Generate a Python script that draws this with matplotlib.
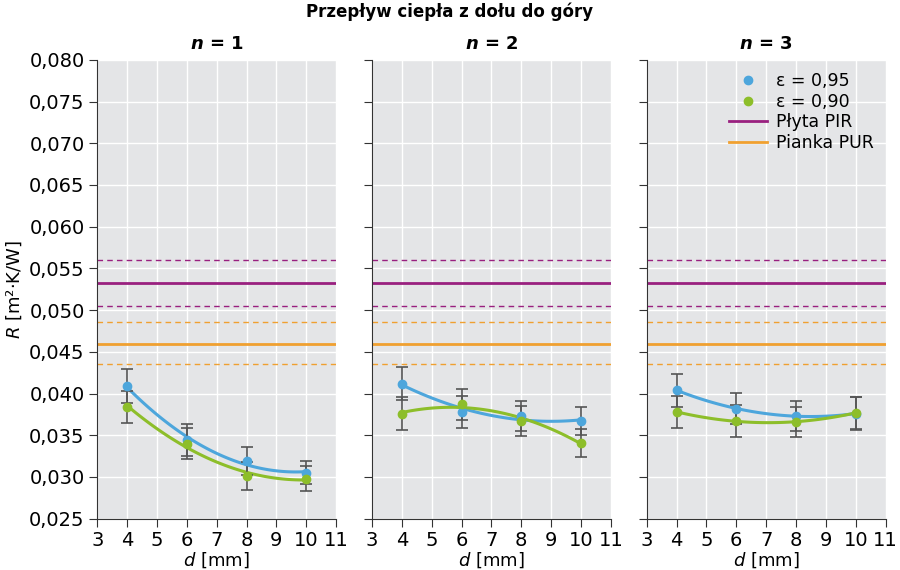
import matplotlib.pyplot as plt
import numpy as np

# thickness of air gap [mm]
d = [4, 6, 8, 10]

# thermal resistance R [m2K/W] for n = 1, 2, 3
r_095 = [
    [0.0409, 0.0344, 0.0319, 0.0305],
    [0.0412, 0.0378, 0.0373, 0.0367],
    [0.0404, 0.0382, 0.0373, 0.0376],
]
r_090 = [
    [0.0384, 0.0340, 0.0301, 0.0298],
    [0.0376, 0.0387, 0.0367, 0.0341],
    [0.0378, 0.0367, 0.0366, 0.0377],
]
err_095 = [
    [0.0020, 0.0019, 0.0017, 0.0014],
    [0.0020, 0.0019, 0.0018, 0.0017],
    [0.0020, 0.0019, 0.0018, 0.0020],
]
err_090 = [
    [0.0019, 0.0019, 0.0017, 0.0015],
    [0.0020, 0.0019, 0.0018, 0.0017],
    [0.0019, 0.0019, 0.0018, 0.0019],
]

pir = [0.0532, 0.0505, 0.0560]   # mean, low, high
pur = [0.0460, 0.0435, 0.0486]

panel_titles = ['1', '2', '3']
y_ticks = [0.025, 0.030, 0.035, 0.040, 0.045, 0.050, 0.055, 0.060, 0.065, 0.070, 0.075, 0.080]

blue = '#4da6dc'
green = '#8dbe2a'
purple = '#99207f'
orange = '#f0a030'
bar_col = '#555555'

fig, axes = plt.subplots(1, 3, figsize=(9, 5.7), dpi=100, sharey=True)
fig.subplots_adjust(left=0.108, right=0.984, top=0.895, bottom=0.09, wspace=0.15)

xs = np.linspace(4, 10, 100)
for i, ax in enumerate(axes):
    ax.set_facecolor('#e4e5e7')
    ax.set_xlim(3, 11)
    ax.set_ylim(0.025, 0.080)
    ax.set_xticks(range(3, 12))
    ax.set_yticks(y_ticks)
    ax.grid(True, color='white', linewidth=1)
    ax.set_axisbelow(True)
    for s in ['top', 'right']:
        ax.spines[s].set_visible(False)
    for s in ['left', 'bottom']:
        ax.spines[s].set_color('#333333')
    ax.tick_params(direction='out', length=6, color='#333333', labelsize=14, pad=3)

    # reference materials
    ax.axhline(pir[0], color=purple, lw=2, label='Płyta PIR')
    ax.axhline(pir[1], color=purple, lw=1, ls=(0, (4, 3)))
    ax.axhline(pir[2], color=purple, lw=1, ls=(0, (4, 3)))
    ax.axhline(pur[0], color=orange, lw=2, label='Pianka PUR')
    ax.axhline(pur[1], color=orange, lw=1, ls=(0, (4, 3)))
    ax.axhline(pur[2], color=orange, lw=1, ls=(0, (4, 3)))

    for vals, errs, col, lab in [(r_095[i], err_095[i], blue, 'ε = 0,95'),
                                 (r_090[i], err_090[i], green, 'ε = 0,90')]:
        coef = np.polyfit(d, vals, 2)
        ax.plot(xs, np.polyval(coef, xs), color=col, lw=2.2, zorder=3)
        ax.errorbar(d, vals, yerr=errs, fmt='none', ecolor=bar_col,
                    elinewidth=1.2, capsize=4, capthick=1.2, zorder=4)
        ax.plot(d, vals, 'o', color=col, ms=6, zorder=5, label=lab, ls='none')

    ax.set_title(r'$\boldsymbol{n}$ = ' + panel_titles[i], fontsize=13,
                 fontweight='bold', pad=8)
    ax.set_xlabel(r'$d$ [mm]', fontsize=13, labelpad=0)

axes[0].set_yticklabels([f'{v:.3f}'.replace('.', ',') for v in y_ticks])
axes[0].set_ylabel(r'$R$ [m²·K/W]', fontsize=13, labelpad=4)
for ax in axes[1:]:
    ax.tick_params(labelleft=False)

h, l = axes[2].get_legend_handles_labels()
order = [l.index('ε = 0,95'), l.index('ε = 0,90'), l.index('Płyta PIR'), l.index('Pianka PUR')]
axes[2].legend([h[k] for k in order], [l[k] for k in order], loc='upper right',
               frameon=False, fontsize=12.5, handlelength=2.2, labelspacing=0.15,
               borderaxespad=0.3, handletextpad=0.5)

fig.suptitle('Przepływ ciepła z dołu do góry', fontsize=12, fontweight='bold', y=0.995)

plt.savefig('out.png', dpi=100)
